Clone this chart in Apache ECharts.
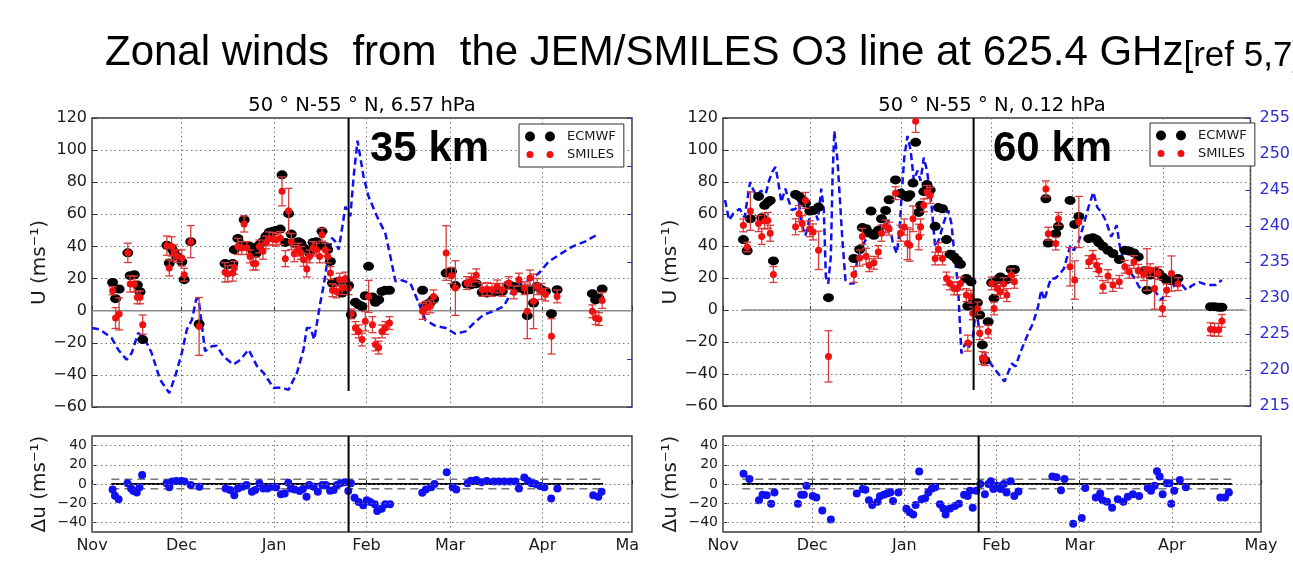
<!DOCTYPE html>
<html><head><meta charset="utf-8">
<script src="https://cdn.jsdelivr.net/npm/echarts@6/dist/echarts.min.js"></script>
<style>html,body{margin:0;padding:0;background:#fff}#c{width:1293px;height:585px}</style>
</head><body><div id="c"></div>
<script>
// ---------------- DATA (days counted from 2009-11-01) ----------------
const monthNames = ['Jan','Feb','Mar','Apr','May','Jun','Jul','Aug','Sep','Oct','Nov','Dec'];

// 35 km (6.57 hPa)
const days35 = [6.9,7.9,9.1,12.0,12.8,14.2,15.2,16.1,17.0,
  25.1,25.9,26.7,27.5,28.4,30.1,30.9,33.1,35.9,
  44.6,45.5,47.2,47.7,
  48.9,50.2,51.0,51.9,53.0,54.1,54.9,56.1,57.3,58.3,59.4,60.6,61.7,63.1,63.7,64.8,65.9,66.8,67.8,69.2,70.0,70.9,72.0,72.9,74.1,75.2,76.3,77.1,78.2,79.0,79.9,80.6,81.9,83.0,83.8,84.9,86.0,
  86.9,88.3,89.4,90.5,91.6,92.7,94.0,95.0,96.1,97.2,98.3,99.7,
  110.8,112.0,113.4,114.5,
  118.7,120.5,121.8,
  125.7,127.2,128.8,130.8,132.4,134.1,135.8,137.5,139.7,141.4,143.1,145.0,145.9,146.8,148.0,149.2,150.7,152.0,154.0,155.9,
  167.7,168.8,169.9,171.0];
const ecmwf35 = [17.6,7.5,13.5,36,21.8,22.4,16,11.8,-18,
  40.7,29.7,38.8,36.5,33.8,30.5,19.3,43,-8.3,
  29.3,28.6,29.3,38,
  45,41,56.6,40.5,40,37,35.5,41,43,46.3,48.8,49.4,50,50.8,84.6,42.5,60.4,47.7,42,43,42,39,38,36,42.5,43,40.5,49.4,40,38,30.7,17.2,17.8,18.3,11,17.6,15.6,
  -2.5,5.2,3.7,2.7,9.3,27.6,8.5,5.2,6.8,12,12.7,12.7,
  12.7,3.7,5.2,7.3,
  23.4,24.5,15.6,
  16.6,16.2,16.8,11.4,11,11.4,12,12,16.2,15.1,14.1,13,-3.1,13,4.8,15.1,13,12,-1.9,13,
  10.6,6.8,7.9,13.5];
const smiles35 = [12.4,-4.6,-2,36,16.6,16.6,8.3,8.3,-8.7,
  40.5,26.6,40,36,34,32.8,22.4,43,-9.8,
  23.9,23,23.4,26.7,
  40,39,54,39,33.8,29.3,29.3,40,37,42.5,45,44.6,44.2,45.2,74.3,32.4,62.2,43,35.5,38,36,31.7,26,33.8,39,38,33.8,47.3,38,33.8,23.4,12.7,12,19.3,14,20,14,
  -2,-10.8,-12.9,-18,-6.6,8.9,-8.7,-21,-23,-12.9,-10.8,-7.7,
  -0.4,1.7,2.7,8.9,
  35.9,21.8,14.1,
  17.2,19.3,22,13,13.5,13,15.1,13,17.2,11.4,19.3,14,-0.4,20.3,5.8,15,12,10,-16,8.9,
  -0.4,-4.6,-5.2,6.4];
const err35 = [2.5,6.5,10,6,5,5,4,4,6,
  6,5,6,5,4,5,4,10,18,
  6,5,5,4,
  5,4,5,4,4,4,4,4,5,4,4,4,4,4,9,5,14,5,5,4,4,4,5,4,4,4,4,4,4,4,4,4,4,4,4,4,4,
  3,4,4,4,6,10,5,4,4,4,4,4,
  5,4,4,4,
  17,5,17,
  4,4,4,4,4,4,4,4,4,4,4,4,17,5,17,5,5,4,11,4,
  4,4,4,5];
const tempDays35 = [0,2.7,6.6,8.8,11.6,13.3,15.5,17.8,20.0,22.8,25.9,27.9,30.1,31.8,33.5,34.9,35.7,36.6,37.9,40.2,
  41.8,44.1,47.4,49.7,52.5,55.3,57.5,60.8,63.1,65.9,68.7,70.9,72.0,73.2,74.5,76.5,77.6,79.0,80.4,81.5,
  82.7,84.1,84.9,86.6,87.7,89.0,91.0,92.7,95.5,98.3,100.0,101.7,103.4,106.7,109.5,111.7,114.9,118.5,121.8,125.2,
  128.0,131.3,134.7,138.0,140.8,143.1,147.0,149.8,153.1,157.6,161.0,165.4,169.4];
const temp35 = [216.4,216.1,214.3,211.9,209.8,211.2,215.4,214.0,211.2,205.7,202.9,206.4,211.2,216.1,218.1,222.3,222.6,218.1,211.6,212.6,
  212.7,210.5,208.8,209.8,211.9,208.5,207.1,204.0,204.0,203.6,207.1,211.9,216.4,216.4,214.0,221.6,225.0,230.6,235.1,234.4,
  232.7,238.2,241.6,239.6,247.9,255.3,247.9,243.7,239.6,236.1,231.3,226.1,226.4,225.7,221.6,218.1,216.9,216.4,215.2,215.7,
  217.4,219.2,219.9,220.9,224.0,225.7,226.4,227.8,230.2,232.0,233.3,234.4,235.8];
const duDays35 = [6.9,7.7,8.9,11.9,13.1,13.9,15.0,15.9,16.8,25.0,25.9,26.9,28.2,29.9,31.0,33.1,36.0,44.8,46.3,47.7,
  48.9,50.4,51.8,53.6,54.7,56.1,57.4,58.8,60.2,61.7,63.3,64.6,65.8,66.7,67.9,69.6,70.7,71.9,72.8,74.3,
  75.7,77.2,78.4,79.8,81.0,82.1,83.3,84.7,85.9,86.8,88.0,89.4,90.9,92.1,93.3,94.8,95.6,97.1,98.3,99.9,
  110.7,111.9,113.7,114.8,118.9,120.9,122.1,125.9,127.0,128.8,130.6,132.3,134.7,136.4,138.2,140.2,141.9,143.1,144.9,146.1,
  147.3,148.7,150.2,151.6,153.9,156.0,168.0,169.7,170.8];
const du35 = [-5.6,-12.3,-15.8,0.7,-4.6,-7.4,-8.8,-3.5,9.5,0.7,-3.5,2.5,3.2,3.2,2.5,-1,-2.8,-4.6,-6.3,-11.6,
  -4.6,-2.8,-1,-8.1,-6.3,0.7,-4.6,-4.6,-2.8,-3.5,-10.6,-9.9,1.4,-4.6,-5.6,-7.4,-5.3,-13.4,-1,-2.8,
  -8.1,-1,-1,-7,-6.3,-1,0.7,1.8,-7.4,0.7,-14.4,-18.7,-22.2,-16.9,-18.7,-21.1,-28.2,-25.7,-21.1,-21.1,
  -9.2,-5.6,-3.5,0,12.3,-3.5,-5.6,0.7,3.5,4.2,1.8,3.2,2.5,2.5,2.5,2.5,2.5,-4.6,6.7,3.5,
  0.7,0,-2.1,-3.5,-15.1,-4.6,-11.6,-13.4,-8.1];

// 60 km (0.12 hPa)
const days60 = [7.0,8.3,9.4,12.2,13.3,14.3,15.4,16.2,17.3,
  24.9,26.1,27.2,28.3,29.8,30.9,32.8,36.2,
  44.9,46.9,47.8,49.1,50.2,50.8,51.8,53.3,54.4,55.8,57.0,59.2,60.9,62.2,63.3,64.1,65.2,66.1,67.2,67.8,68.9,70.0,71.1,72.8,73.9,75.3,76.7,77.9,79.3,80.4,81.5,83.5,84.0,85.1,85.7,87.3,88.1,89.0,89.9,91.0,92.2,93.0,94.1,95.2,96.3,97.4,98.9,100.0,
  110.8,111.6,114.2,115.1,119.1,120.7,122.1,125.5,126.9,128.2,129.0,130.4,132.1,133.8,136.0,137.9,139.4,141.0,142.5,144.4,145.5,146.6,148.1,149.4,150.8,152.2,153.9,156.1,
  167.3,168.6,170.1,171.2];
const ecmwf60 = [44,37,57,71,57.7,65.4,67.4,68.5,30.7,
  72.2,71,69,66.8,61.8,62.2,64.3,7.7,
  32.2,37.8,51.5,50.8,48.1,61.8,46.7,49.8,57,62.2,68.9,81.3,73,71.6,70.5,72,79.3,104.8,61,65.4,74,78.4,75,52.3,64,63.3,44,34.9,33.2,31.1,28.6,19.7,2.5,17.6,4.6,4.6,-3.1,-21.8,-31.5,-7.3,17,7.3,19,20.7,18.7,19,25.3,25.3,
  69.5,41.9,47.7,52.3,68.5,53.5,58.5,44.6,45.2,44,42,39.8,37.3,35.3,31.5,37.3,36.9,35.7,33.2,24.5,12.4,21.8,23.9,23.2,20.7,18.7,18.3,19.7,
  2.1,2.1,1.7,1.7];
const smiles60 = [52.9,39.4,61.8,54,46,55.6,56,48,22.2,
  52,60.2,54,68.5,50.8,48.8,37.3,-29,
  22.2,32.5,46,33.6,28,null,29.5,36.3,48,52.3,50.8,73,48,51.9,41.5,40.5,57,118,45.6,51.9,65.4,73.8,71.6,32.2,38,32.2,19.7,16.6,13.5,13.5,16.6,9.3,-20.7,8.3,-2.1,1,-14.5,-30,-30.7,-13.5,16.6,1,13.5,11.4,16.2,9.3,21.8,17.6,
  75.7,47.7,41.5,57,27,18.7,55,30,33.2,28,24.9,14.5,21.2,15.6,17.6,27,23.9,30,24.5,22.4,25.3,24.9,13.5,23,1,12.4,22.8,16.2,
  -12,-12.4,-12.4,-6.8];
const err60 = [4,3,12,5,5,5,5,5,5,
  5,5,5,5,5,5,12,16,
  5,5,5,5,4,4,4,4,5,4,4,4,5,5,10,10,8,7,8,5,4,4,5,4,4,4,4,4,4,4,4,4,5,4,4,4,4,4,4,4,4,4,4,4,4,4,4,4,
  5,4,4,4,12,12,16,4,4,4,4,4,4,4,4,4,4,4,4,4,13,4,13,4,5,4,11,4,
  4,4,4,4];
const tempDays60 = [0.7,2.1,3.5,5.7,7.4,9.3,10.2,11.5,13.0,14.7,15.8,16.9,18.0,18.9,20.0,21.4,22.5,23.6,24.9,26.1,
  26.9,28.3,29.8,31.4,32.6,33.7,34.6,35.3,36.1,37.0,37.6,38.2,39.3,40.9,42.0,43.5,44.9,46.0,47.3,48.8,
  50.4,52.4,54.0,55.5,56.9,58.3,59.6,60.5,61.4,62.2,63.3,64.4,65.5,66.7,67.8,68.9,70.0,71.5,72.8,74.2,
  75.6,77.3,78.4,79.5,80.6,81.8,83.1,84.2,85.7,86.8,87.9,89.0,90.2,91.8,93.5,95.2,96.6,97.8,99.1,100.4,
  101.9,103.8,105.3,106.4,108.1,109.2,110.3,111.4,112.5,113.9,115.3,117.0,118.1,119.2,120.4,122.0,123.7,125.4,127.1,128.4,
  129.9,131.5,133.2,135.1,136.2,138.0,139.6,141.0,142.7,144.4,146.1,148.3,150.6,152.2,154.5,156.7,159.0,161.2,163.4,166.2,
  169.0,171.2];
const temp60 = [243.6,240.8,241.7,242.4,241.2,246.1,245.2,244.2,244.9,244.5,246.3,247.5,248.2,246.3,243.3,245.2,243.6,242.2,242.4,243.1,
  240.3,238.7,241.2,242.2,240.8,245.2,242.2,232.9,232.0,235.7,246.8,253.2,249.1,238.5,232.5,232.0,232.0,235.2,236.6,238.0,
  238.5,239.4,240.1,239.9,240.8,237.6,236.2,238.9,244.9,249.5,252.5,250.5,246.3,247.7,246.3,249.5,247.7,243.1,237.1,238.2,
  240.3,242.2,240.3,235.7,232.0,222.3,223.7,223.0,224.2,228.8,225.6,223.7,221.9,220.9,220.0,219.1,218.4,219.6,220.9,220.5,
  222.3,224.2,225.6,226.5,228.8,231.1,229.7,231.3,232.7,232.7,233.2,234.1,235.7,237.3,236.6,237.8,240.1,242.6,244.7,242.6,
  241.9,240.6,238.5,240.1,237.1,234.3,233.6,232.9,231.6,230.9,231.3,230.9,229.7,231.3,231.6,232.2,231.1,231.8,232.2,231.8,
  231.8,232.5];
const duDays60 = [6.9,8.9,12.1,13.3,14.7,16.2,17.3,25.2,26.3,27.2,28.1,30.2,31.4,33.4,36.3,45.0,47.0,47.9,49.1,50.2,
  52.0,52.8,54.1,55.2,56.3,57.2,59.0,61.7,62.8,64.0,64.8,66.0,66.8,68.0,69.1,70.3,71.4,73.0,74.1,74.9,
  76.4,78.0,79.4,81.1,82.3,83.1,84.0,85.2,86.6,88.1,89.3,90.1,91.0,92.2,93.4,94.5,95.4,96.8,98.0,99.4,
  110.8,112.2,113.7,114.9,117.8,120.7,121.9,125.4,126.9,127.7,129.2,130.9,132.8,134.7,136.2,137.9,140.0,142.9,144.0,145.2,
  146.0,146.9,147.9,149.3,150.2,150.8,151.8,153.7,155.7,167.3,168.9,170.2];
const du60 = [10.6,5.3,-17,-11.3,-11.7,-20.5,-8.8,-20.5,-11.3,-11.3,-1.8,-12.4,-14.1,-27.6,-37.1,-9.9,-5.3,-6,-17,-21.9,
  -18.4,-12.7,-11.3,-9.9,-8.8,-17.7,-8.8,-25.8,-29.3,-31.8,-21.9,13.1,-15.9,-14.8,-8.8,-4.6,-3.5,-21.2,-25.4,-31.8,
  -25.4,-23,-20.5,-11.3,-12.4,-7.1,-24.7,-7.1,0,-10.6,0,2.8,-5.3,-1.8,-5.3,0,-8.8,2.8,-12.4,-7.8,
  7.8,7.1,-6.4,5.3,-41.3,-35.3,-4.2,-14.1,-9.9,-17,-18.4,-24.7,-15.9,-18.4,-13.4,-10.6,-12.4,-4.2,-7.1,-1.8,
  13.4,7.8,-10.6,0.7,0.7,-20.5,-7.1,4.2,-3.5,-14.1,-14.1,-8.8];

// reference lines / ticks
const cutDay = 86;              // vertical marker (late January)
const zeroSpan35 = [0, 181];
const zeroSpan60 = [6.7, 179];
const duSpan = [6.5, 171.3];
const tolerance = 5;
const uTicks = {min: -60, max: 120, step: 20};
const duTicks = [-40, -20, 0, 20, 40];
const tAxis35 = {min: 200, max: 260, step: 10};
const tAxis60 = {min: 215, max: 255, step: 5};

// ---------------- helpers ----------------
const DAY = 86400000;
const t0 = new Date(2009, 10, 1).getTime();
const T = d => t0 + d * DAY;
const xMin = new Date(2009, 10, 1).getTime();
const xMax = new Date(2010, 4, 1).getTime();
const pairs = (days, vals) => days.map((d, i) => vals[i] == null ? null : [T(d), vals[i]]).filter(Boolean);
const triples = (days, vals, errs) => days.map((d, i) => vals[i] == null ? null : [T(d), vals[i], errs[i]]).filter(Boolean);
const minus = v => String(v).replace('-', '\u2212');

const FONT = 'DejaVu Sans';
const TXT = '#1a1a1a';
const dotted = {color: '#777', type: [1.5, 3], width: 1};

function xAxisCfg(gridIndex, showLabels) {
  return {
    type: 'time', gridIndex, min: xMin, max: xMax,
    minInterval: 28 * DAY, maxInterval: 31 * DAY, splitNumber: 6,
    axisLine: {show: false},
    axisTick: {show: true, inside: true, length: 4, lineStyle: {color: '#333'}},
    splitLine: {show: true, lineStyle: dotted},
    axisLabel: {
      show: showLabels, fontSize: 16, color: TXT, fontFamily: FONT, margin: 6,
      showMinLabel: true, showMaxLabel: true,
      formatter: v => monthNames[new Date(v).getMonth()]
    }
  };
}
function uAxis(gridIndex) {
  return {
    type: 'value', gridIndex, position: 'left', min: uTicks.min, max: uTicks.max, interval: uTicks.step,
    axisLine: {show: false},
    axisTick: {show: true, inside: true, length: 5, lineStyle: {color: '#333'}},
    splitLine: {show: true, lineStyle: dotted},
    axisLabel: {fontSize: 16, color: TXT, fontFamily: FONT, margin: 5, formatter: minus},
    name: 'U (ms\u207B\u00B9)', nameLocation: 'middle', nameGap: 42,
    nameTextStyle: {fontSize: 20, fontFamily: FONT, color: TXT}
  };
}
function duAxis(gridIndex) {
  return {
    type: 'value', gridIndex, position: 'left', min: -50, max: 50,
    axisLine: {show: false},
    axisTick: {show: true, inside: true, length: 4, customValues: duTicks, lineStyle: {color: '#333'}},
    splitLine: {show: false},
    axisLabel: {fontSize: 14, color: TXT, fontFamily: FONT, margin: 5, customValues: duTicks, formatter: minus},
    name: '\u0394u (ms\u207B\u00B9)', nameLocation: 'middle', nameGap: 42,
    nameTextStyle: {fontSize: 20, fontFamily: FONT, color: TXT}
  };
}
function tAxis(gridIndex, cfg, showLabels) {
  return {
    type: 'value', gridIndex, position: 'right', min: cfg.min, max: cfg.max, interval: cfg.step,
    axisLine: {show: false},
    axisTick: {show: true, inside: true, length: 5, lineStyle: {color: '#3333cc'}},
    splitLine: {show: false},
    axisLabel: {show: showLabels, fontSize: 16, color: '#2c2cd6', fontFamily: FONT, margin: 9}
  };
}
function errorBars(params, api) {
  const x = api.value(0), y = api.value(1), e = api.value(2);
  const a = api.coord([x, y + e]), b = api.coord([x, y - e]);
  const w = 4;
  const style = {stroke: '#d93a3a', lineWidth: 1.3};
  return {type: 'group', children: [
    {type: 'line', shape: {x1: a[0], y1: a[1], x2: b[0], y2: b[1]}, style},
    {type: 'line', shape: {x1: a[0] - w, y1: a[1], x2: a[0] + w, y2: a[1]}, style},
    {type: 'line', shape: {x1: b[0] - w, y1: b[1], x2: b[0] + w, y2: b[1]}, style}
  ]};
}
function refLine(xi, yi, pts, color, width, type, z) {
  return {type: 'line', xAxisIndex: xi, yAxisIndex: yi, data: pts, symbol: 'none', silent: true,
    lineStyle: {color, width, type}, z, animation: false};
}
function topSeries(xi, yi, yti, days, ec, sm, er, tDays, temps, zeroSpan) {
  return [
    refLine(xi, yi, [[T(zeroSpan[0]), 0], [T(zeroSpan[1]), 0]], '#8a8a8a', 1.5, 'solid', 1),
    {type: 'line', name: 'Temperature', xAxisIndex: xi, yAxisIndex: yti, data: pairs(tDays, temps), symbol: 'none',
      lineStyle: {color: '#1010f0', width: 2.5, type: [7, 4]}, z: 2},
    {type: 'scatter', name: 'ECMWF', xAxisIndex: xi, yAxisIndex: yi, data: pairs(days, ec),
      symbol: 'circle', symbolSize: [11, 9], itemStyle: {color: '#000', opacity: 1}, z: 3},
    {type: 'custom', name: 'SMILES error', xAxisIndex: xi, yAxisIndex: yi, data: triples(days, sm, er),
      renderItem: errorBars, clip: true, z: 4},
    {type: 'scatter', name: 'SMILES', xAxisIndex: xi, yAxisIndex: yi, data: pairs(days, sm),
      symbol: 'circle', symbolSize: 7, itemStyle: {color: '#f01010', opacity: 1}, z: 5},
    refLine(xi, yi, [[T(cutDay), -50], [T(cutDay), 120]], '#000', 2, 'solid', 6)
  ];
}
function bottomSeries(xi, yi, dDays, dVals) {
  const grid = refLine(xi, yi, [[T(duSpan[0]), 0], [T(duSpan[1]), 0]], '#000', 2, 'solid', 3);
  grid.markLine = {silent: true, symbol: 'none', label: {show: false}, animation: false,
    lineStyle: dotted, data: duTicks.map(v => ({yAxis: v}))};
  return [
    grid,
    refLine(xi, yi, [[T(duSpan[0]), tolerance], [T(duSpan[1]), tolerance]], '#777', 1.5, [8, 5], 2),
    refLine(xi, yi, [[T(duSpan[0]), -tolerance], [T(duSpan[1]), -tolerance]], '#777', 1.5, [8, 5], 2),
    {type: 'scatter', name: '\u0394u', xAxisIndex: xi, yAxisIndex: yi, data: pairs(dDays, dVals),
      symbol: 'circle', symbolSize: 8, itemStyle: {color: '#1010f0', opacity: 1}, z: 4},
    refLine(xi, yi, [[T(cutDay), -50], [T(cutDay), 50]], '#000', 2, 'solid', 6)
  ];
}

const iconBig = 'path://M0,5a5,5 0 1,0 10,0a5,5 0 1,0 -10,0zM20,5a5,5 0 1,0 10,0a5,5 0 1,0 -10,0zM0,0M37,10';
const iconSmall = 'path://M0,0M37,10M1.5,5a3.5,3.5 0 1,0 7,0a3.5,3.5 0 1,0 -7,0zM21.5,5a3.5,3.5 0 1,0 7,0a3.5,3.5 0 1,0 -7,0z';
function legendCfg(left, top) {
  return {
    left, top, orient: 'vertical', selectedMode: false,
    data: [{name: 'ECMWF', icon: iconBig}, {name: 'SMILES', icon: iconSmall}],
    itemWidth: 37, itemHeight: 10, itemGap: 5, itemStyle: {borderWidth: 0},
    textStyle: {fontSize: 13, fontFamily: FONT, color: TXT},
    borderColor: '#333', borderWidth: 1, backgroundColor: '#fff', padding: [6, 8, 6, 6]
  };
}
const gridStyle = {show: true, borderColor: '#3a3a3a', borderWidth: 1.5, backgroundColor: 'transparent'};
const plainTitle = (text, left, top, size, weight, family, align) => ({
  text, left, top, padding: 0, textAlign: align,
  textStyle: {fontFamily: family, fontSize: size, fontWeight: weight, color: '#000'}
});

const option = {
  animation: false,
  backgroundColor: '#fff',
  title: [
    {text: '{m|Zonal winds  from  the JEM/SMILES O3 line at 625.4 GHz}{r|[ref 5,7]}', left: 105, top: 26, padding: 0,
      textStyle: {fontWeight: 'normal', rich: {
        m: {fontFamily: 'Liberation Sans', fontSize: 42, fontWeight: 'normal', color: '#000', lineHeight: 48, verticalAlign: 'bottom'},
        r: {fontFamily: 'Liberation Sans', fontSize: 35, fontWeight: 'normal', color: '#000', lineHeight: 48, verticalAlign: 'bottom'}}}},
    plainTitle('50 \u00B0 N-55 \u00B0 N, 6.57 hPa', 362, 96, 19.5, 'normal', FONT, 'center'),
    plainTitle('50 \u00B0 N-55 \u00B0 N, 0.12 hPa', 992, 96, 19.5, 'normal', FONT, 'center'),
    plainTitle('35 km', 370, 128, 42, 'bold', 'Liberation Sans'),
    plainTitle('60 km', 993, 128, 42, 'bold', 'Liberation Sans')
  ],
  legend: [legendCfg(519, 124), legendCfg(1150, 123)],
  grid: [
    Object.assign({left: 92, top: 118, width: 540, height: 289}, gridStyle),
    Object.assign({left: 92, top: 436, width: 540, height: 96}, gridStyle),
    Object.assign({left: 723, top: 118, width: 538, height: 288}, gridStyle),
    Object.assign({left: 723, top: 436, width: 538, height: 96}, gridStyle)
  ],
  xAxis: [xAxisCfg(0, false), xAxisCfg(1, true), xAxisCfg(2, false), xAxisCfg(3, true)],
  yAxis: [uAxis(0), tAxis(0, tAxis35, false), duAxis(1), uAxis(2), tAxis(2, tAxis60, true), duAxis(3)],
  series: [].concat(
    topSeries(0, 0, 1, days35, ecmwf35, smiles35, err35, tempDays35, temp35, zeroSpan35),
    bottomSeries(1, 2, duDays35, du35),
    topSeries(2, 3, 4, days60, ecmwf60, smiles60, err60, tempDays60, temp60, zeroSpan60),
    bottomSeries(3, 5, duDays60, du60)
  ),
  graphic: [
    {type: 'rect', left: 638, top: 533, shape: {width: 22, height: 24}, style: {fill: '#fff'}, z: 100}
  ]
};

const chart = echarts.init(document.getElementById('c'), null, {renderer: 'canvas'});
chart.setOption(option);
</script>
</body></html>
